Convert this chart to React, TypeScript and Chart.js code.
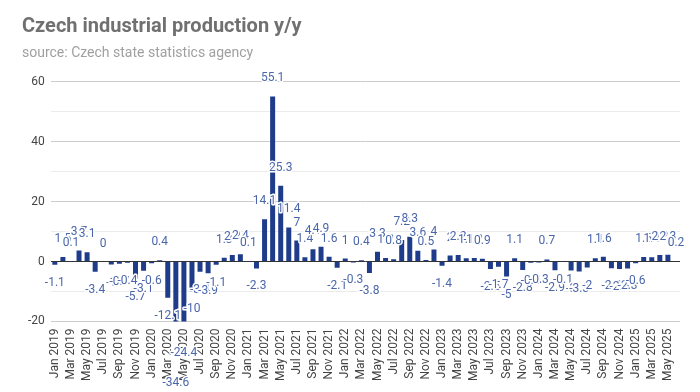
import React, { useEffect, useRef } from 'react';
import { Chart, registerables } from 'chart.js';

Chart.register(...registerables);

const MONTHS = ['Jan', 'Feb', 'Mar', 'Apr', 'May', 'Jun', 'Jul', 'Aug', 'Sep', 'Oct', 'Nov', 'Dec'];
const START_YEAR = 2019;

const values2019 = [-1.1, 1.5, 0.1, 3.7, 3.1, -3.4, 0, -1.0, -0.7, -0.4, -5.7, -3.1];
const values2020 = [-0.6, 0.4, -12.1, -34.6, -24.4, -10, -3.4, -3.9, -1.1, 1.3, 2.2, 2.4];
const values2021 = [0.1, -2.3, 14.1, 55.1, 25.3, 11.4, 7, 1.4, 4.1, 4.9, 1.6, -2.1];
const values2022 = [1, -0.3, 0.4, -3.8, 3.3, 1.2, 0.8, 7.2, 8.3, 3.6, 0.5, 4];
const values2023 = [-1.4, 2.0, 2.2, 1.1, 1.2, 0.9, -2.5, -1.7, -5, 1.1, -2.8, -0.4];
const values2024 = [-0.3, 0.7, -2.9, -0.1, -3, -3.3, -2, 1.1, 1.6, -2.2, -2.5, -2.3];
const values2025 = [-0.6, 1.5, 1.4, 2.2, 2.3, 0.2];

const values = [
  ...values2019, ...values2020, ...values2021, ...values2022,
  ...values2023, ...values2024, ...values2025,
];

const categories = values.map(
  (_, i) => `${MONTHS[i % 12]} ${START_YEAR + Math.floor(i / 12)}`
);

const Y_MIN = -20;
const Y_MAX = 60;
const Y_STEP = 5;
const Y_LABEL_STEP = 20;

const TITLE = 'Czech industrial production y/y';
const SUBTITLE = 'source: Czech state statistics agency';

const BAR_COLOR = '#1f3c8b';
const LABEL_COLOR = '#4a66ab';

const valueLabels = {
  id: 'valueLabels',
  afterDatasetsDraw(chart: any) {
    const ctx = chart.ctx;
    const meta = chart.getDatasetMeta(0);
    const yScale = chart.scales.y;
    ctx.save();
    ctx.font = '12px Roboto';
    ctx.textAlign = 'center';
    ctx.textBaseline = 'middle';
    ctx.lineJoin = 'round';
    meta.data.forEach((bar: any, i: number) => {
      const v = values[i];
      const py = yScale.getPixelForValue(v);
      const ty = v >= 0 ? py - 18 : py + 18;
      const text = String(v);
      ctx.strokeStyle = '#ffffff';
      ctx.lineWidth = 3;
      ctx.strokeText(text, bar.x, ty);
      ctx.fillStyle = LABEL_COLOR;
      ctx.fillText(text, bar.x, ty);
    });
    ctx.restore();
  },
};

export default function App() {
  const canvasRef = useRef<HTMLCanvasElement | null>(null);

  useEffect(() => {
    document.body.style.margin = '0';
    const canvas = canvasRef.current;
    if (!canvas) return;
    const chart = new Chart(canvas, {
      type: 'bar',
      data: {
        labels: categories,
        datasets: [
          {
            data: values,
            backgroundColor: BAR_COLOR,
            borderWidth: 0,
            categoryPercentage: 1,
            barPercentage: 0.62,
            clip: 0,
          } as any,
        ],
      },
      plugins: [valueLabels],
      options: {
        animation: false,
        responsive: true,
        maintainAspectRatio: false,
        layout: { padding: { left: 22, right: 20, top: 0, bottom: 4 } },
        plugins: {
          legend: { display: false },
          tooltip: { enabled: false },
          title: {
            display: true,
            text: TITLE,
            align: 'start',
            color: '#707070',
            font: { family: 'Roboto', size: 20, weight: 'bold' },
            padding: { top: 15, bottom: 6 },
          },
          subtitle: {
            display: true,
            text: SUBTITLE,
            align: 'start',
            color: '#a0a0a0',
            font: { family: 'Roboto', size: 14 },
            padding: { top: 0, bottom: 20 },
          },
        },
        scales: {
          x: {
            grid: { display: false, drawTicks: false },
            border: { display: false },
            ticks: {
              autoSkip: false,
              maxRotation: 90,
              minRotation: 90,
              padding: 7,
              color: '#444444',
              font: { family: 'Roboto', size: 12 },
              callback: (_v: any, i: number) => (i % 2 === 0 ? categories[i] : ''),
            },
          },
          y: {
            min: Y_MIN,
            max: Y_MAX,
            border: { display: false },
            grid: {
              drawTicks: false,
              color: (c: any) =>
                c.tick.value === 0
                  ? '#333333'
                  : c.tick.value % Y_LABEL_STEP === 0
                  ? '#cccccc'
                  : '#ebebeb',
            },
            ticks: {
              stepSize: Y_STEP,
              padding: 6,
              color: '#444444',
              font: { family: 'Roboto', size: 12 },
              callback: (v: any) => (Number(v) % Y_LABEL_STEP === 0 ? String(v) : ''),
            },
          },
        },
      },
    });
    return () => chart.destroy();
  }, []);

  return (
    <div style={{ width: 700, height: 392, position: 'relative' }}>
      <canvas ref={canvasRef} />
    </div>
  );
}
